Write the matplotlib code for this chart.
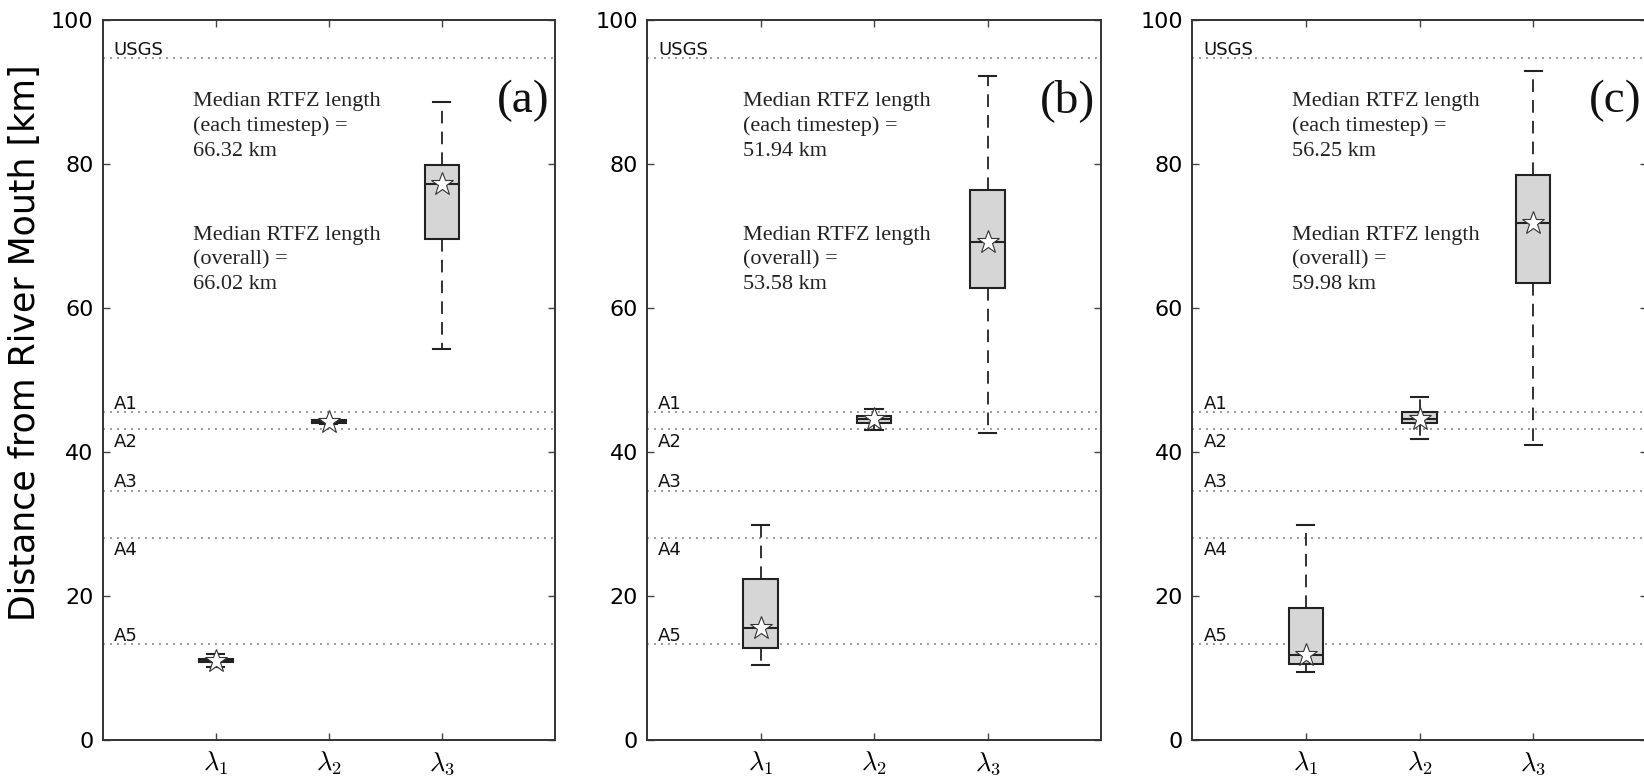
import matplotlib
matplotlib.use("Agg")
import matplotlib.pyplot as plt

# RTFZ location statistics per panel: [lambda1, lambda2, lambda3]
panel_tags = ["(a)", "(b)", "(c)"]
whislo = [[10.2, 43.9, 54.2], [10.4, 43.0, 42.6], [9.4, 41.8, 41.0]]
q1 = [[10.8, 44.0, 69.5], [12.8, 44.05, 62.8], [10.6, 44.0, 63.4]]
med = [[11.0, 44.2, 77.2], [15.5, 44.5, 69.1], [11.8, 44.5, 71.8]]
q3 = [[11.3, 44.4, 79.8], [22.4, 44.9, 76.3], [18.3, 45.5, 78.4]]
whishi = [[11.9, 44.5, 88.5], [29.8, 45.9, 92.2], [29.8, 47.6, 92.8]]

median_each = ["66.32", "51.94", "56.25"]
median_overall = ["66.02", "53.58", "59.98"]

# reference stations along the river
station_names = ["USGS", "A1", "A2", "A3", "A4", "A5"]
station_km = [94.6, 45.5, 43.1, 34.6, 28.1, 13.3]
station_below = [False, False, True, False, True, False]

xtick_labels = [r"$\lambda_1$", r"$\lambda_2$", r"$\lambda_3$"]

plt.rcParams["mathtext.fontset"] = "cm"

W, H = 1644, 778
fig = plt.figure(figsize=(W / 100, H / 100), dpi=100, facecolor="white")

# axes boxes in pixels (left, right); the third panel runs off the right edge
boxes_px = [(102.5, 555), (647, 1101), (1192, 1647)]
text_x = [0.80, 0.85, 0.88]
top_px, bot_px = 19.5, 740

for i, (l, r) in enumerate(boxes_px):
    ax = fig.add_axes([l / W, (H - bot_px) / H, (r - l) / W, (bot_px - top_px) / H])
    stats = []
    for j in range(3):
        stats.append(dict(med=med[i][j], q1=q1[i][j], q3=q3[i][j],
                          whislo=whislo[i][j], whishi=whishi[i][j]))
    ax.bxp(stats, positions=[1, 2, 3], widths=0.3, patch_artist=True,
           showfliers=False,
           boxprops=dict(facecolor="#d6d6d6", edgecolor="#222222", linewidth=1.5),
           whiskerprops=dict(color="#222222", linewidth=1.3, linestyle=(0, (7, 4.5))),
           capprops=dict(color="#222222", linewidth=1.5),
           medianprops=dict(color="#222222", linewidth=1.5))
    ax.plot([1, 2, 3], med[i], linestyle="none", marker="*", markersize=17,
            markerfacecolor="white", markeredgecolor="#333333", markeredgewidth=0.8,
            zorder=5)

    for name, km, below in zip(station_names, station_km, station_below):
        ax.axhline(km, color="#9a9a9a", linewidth=1.4, linestyle=(0, (1, 2.6)), zorder=0)
        if below:
            ax.text(0.1, km - 0.5, name, fontsize=13, va="top", ha="left", color="#111111")
        else:
            ax.text(0.1, km + 0.45, name, fontsize=13, va="baseline", ha="left", color="#111111")

    ax.text(text_x[i], 85.15, "Median RTFZ length\n(each timestep) =\n%s km" % median_each[i],
            family="Liberation Serif", fontsize=16, va="center", ha="left",
            linespacing=1.36, color="#222222")
    ax.text(text_x[i], 66.6, "Median RTFZ length\n(overall) =\n%s km" % median_overall[i],
            family="Liberation Serif", fontsize=16, va="center", ha="left",
            linespacing=1.36, color="#222222")
    ax.text(0.987, 0.887, panel_tags[i], transform=ax.transAxes,
            family="Liberation Serif", fontsize=34, va="center", ha="right",
            color="#111111")

    ax.set_xlim(0, 4)
    ax.set_ylim(0, 100)
    ax.set_xticks([1, 2, 3])
    ax.set_xticklabels(xtick_labels, fontsize=19)
    ax.set_yticks([0, 20, 40, 60, 80, 100])
    ax.tick_params(axis="both", direction="in", length=5, width=1, color="#444444",
                   top=True, right=True)
    ax.tick_params(axis="y", labelsize=16, pad=6.5)
    ax.tick_params(axis="x", pad=7)
    for s in ax.spines.values():
        s.set_linewidth(1.4)
        s.set_color("#333333")
    if i == 0:
        ax.set_ylabel("Distance from River Mouth [km]", fontsize=25)
        ax.yaxis.set_label_coords(-0.133, 0.551)

fig.savefig("out.png", dpi=100, facecolor="white")
